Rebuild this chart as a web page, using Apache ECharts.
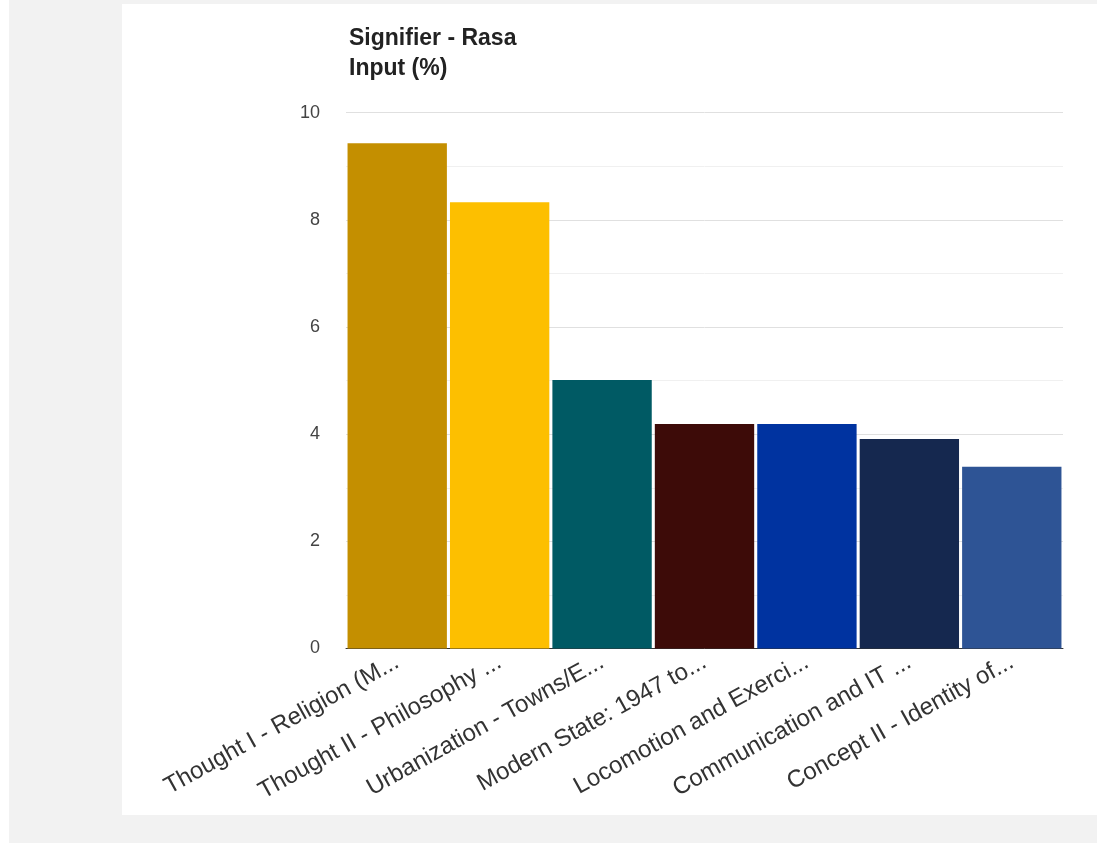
<!DOCTYPE html>
<html>
<head>
<meta charset="utf-8">
<script src="https://cdn.jsdelivr.net/npm/echarts@6/dist/echarts.min.js"></script>
<style>
html,body{margin:0;padding:0;width:1097px;height:843px;background:#f2f2f2;overflow:hidden;}
#panel{position:absolute;left:122px;top:4px;width:975px;height:811px;background:#fff;}
#strip{position:absolute;left:0;top:0;width:9px;height:843px;background:#fff;}
#chart{position:absolute;left:0;top:0;width:1097px;height:843px;}
</style>
</head>
<body>
<div id="strip"></div>
<div id="panel"></div>
<div id="chart"></div>
<script>
const categories = [
  'Thought I - Religion (M...',
  'Thought II - Philosophy ...',
  'Urbanization - Towns/E...',
  'Modern State: 1947 to...',
  'Locomotion and Exerci...',
  'Communication and IT ...',
  'Concept II - Identity of...'
];
const values = [9.43, 8.33, 5.01, 4.19, 4.19, 3.91, 3.39];
const barColors = ['#c48f00', '#fdbf00', '#005a64', '#3d0b08', '#0033a0', '#15284f', '#2e5495'];
const yTicks = [0, 2, 4, 6, 8, 10];

const FONT = 'Liberation Sans, Arial, sans-serif';
const chart = echarts.init(document.getElementById('chart'), null, {renderer: 'canvas'});
chart.setOption({
  backgroundColor: 'transparent',
  animation: false,
  title: {
    text: 'Signifier - Rasa\nInput (%)',
    left: 344,
    top: 19,
    textStyle: {fontFamily: FONT, fontSize: 23, fontWeight: 'bold', color: '#222', lineHeight: 30}
  },
  grid: {left: 346, right: 34, top: 112.7, bottom: 843 - 648.5, containLabel: false},
  xAxis: {
    type: 'category',
    data: categories,
    axisLine: {show: true, lineStyle: {color: '#333', width: 1}},
    axisTick: {show: false},
    axisLabel: {
      interval: 0, rotate: 29, margin: 12,
      fontFamily: FONT, fontSize: 24, color: '#333'
    }
  },
  yAxis: {
    type: 'value',
    min: yTicks[0], max: yTicks[yTicks.length - 1], interval: 2,
    axisLine: {show: false},
    axisTick: {show: false},
    axisLabel: {margin: 26, fontFamily: FONT, fontSize: 18, color: '#444'},
    splitLine: {show: true, lineStyle: {color: '#e0e0e0', width: 1}},
    minorTick: {show: false, splitNumber: 2},
    minorSplitLine: {show: true, lineStyle: {color: '#f0f0f0', width: 1}}
  },
  series: [{
    type: 'bar',
    data: values.map((v, i) => ({value: v, itemStyle: {color: barColors[i]}})),
    barCategoryGap: '3%',
    z: 3
  }]
});
</script>
</body>
</html>
